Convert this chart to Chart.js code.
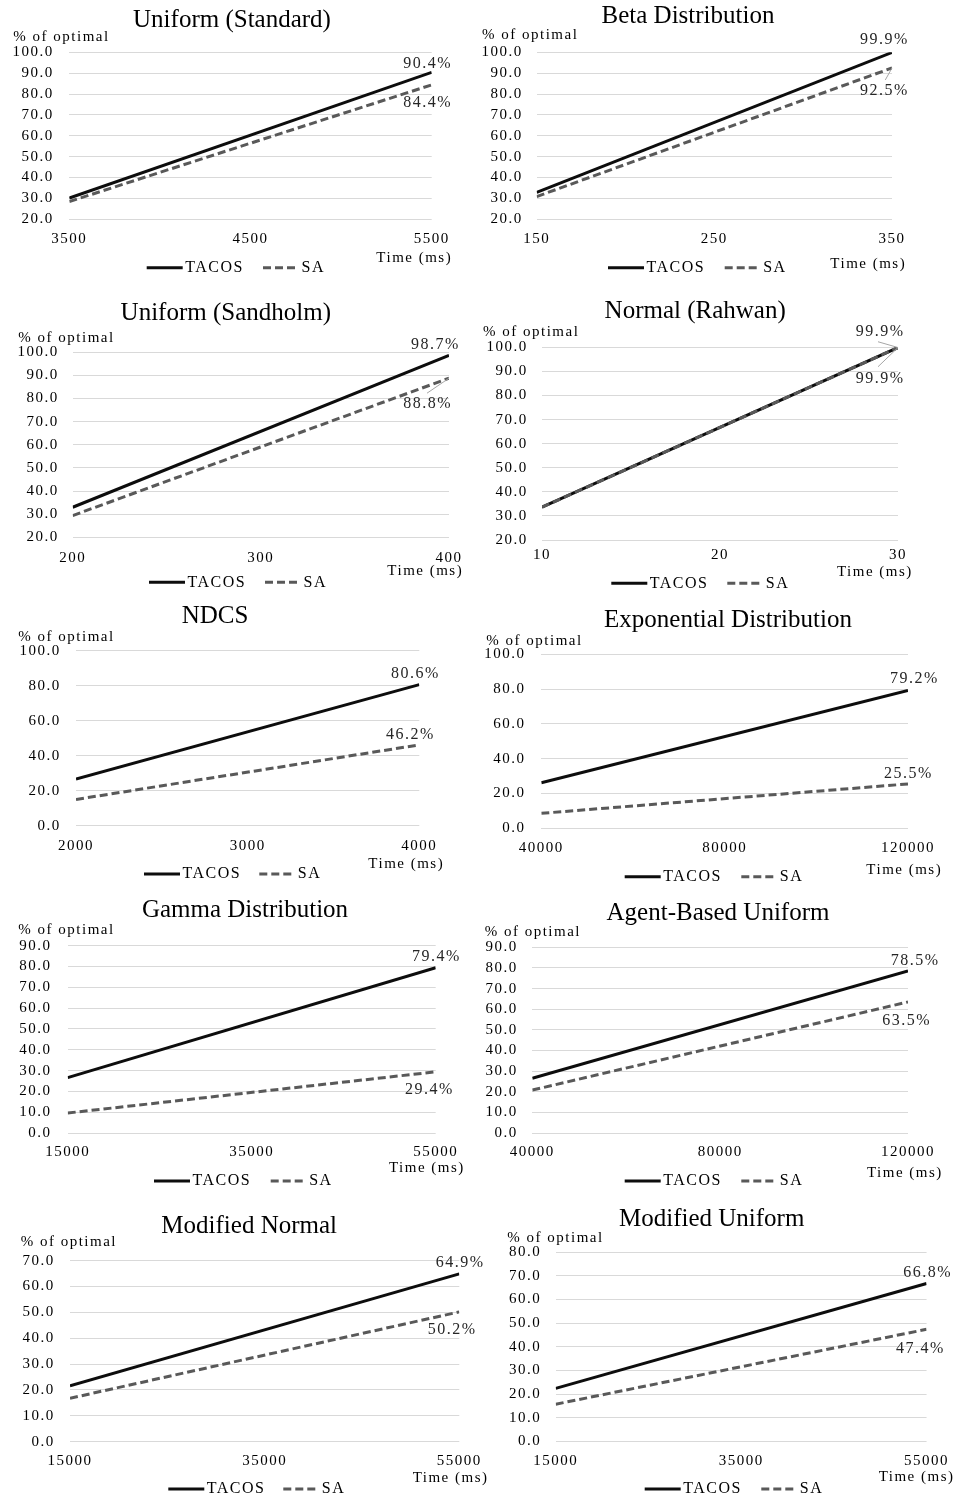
<!DOCTYPE html>
<html>
<head>
<meta charset="utf-8">
<script src="https://cdn.jsdelivr.net/npm/chart.js@4.4.1/dist/chart.umd.min.js"></script>
<style>
  html, body { margin: 0; padding: 0; background: #ffffff; }
  body { position: relative; width: 956px; height: 1499px; overflow: hidden; }
  canvas { position: absolute; }
</style>
</head>
<body>
<script>
// ---- data ----
const titles = ['Uniform (Standard)', 'Beta Distribution', 'Uniform (Sandholm)', 'Normal (Rahwan)', 'NDCS',
                'Exponential Distribution', 'Gamma Distribution', 'Agent-Based Uniform', 'Modified Normal', 'Modified Uniform'];
const seriesNames = ['TACOS', 'SA'];
// time (ms) of the first and last measurement
const times = [[3500, 5500], [150, 350], [200, 400], [10, 30], [2000, 4000],
               [40000, 120000], [15000, 55000], [40000, 120000], [15000, 55000], [15000, 55000]];
// % of optimal at those times
const tacos = [[30.2, 90.4], [32.9, 99.9], [33.0, 98.7], [33.6, 99.9], [26.7, 80.6],
               [26.2, 79.2], [26.6, 79.4], [26.5, 78.5], [21.6, 64.9], [22.4, 66.8]];
const sa    = [[28.5, 84.4], [30.9, 92.5], [29.4, 88.8], [33.6, 99.9], [15.0, 46.2],
               [8.6, 25.5], [9.6, 29.4], [20.8, 63.5], [16.8, 50.2], [15.7, 47.4]];
// x-axis tick values
const xTicks = [[3500, 4500, 5500], [150, 250, 350], [200, 300, 400], [10, 20, 30], [2000, 3000, 4000],
                [40000, 80000, 120000], [15000, 35000, 55000], [40000, 80000, 120000], [15000, 35000, 55000], [15000, 35000, 55000]];
// y-axis [min, max, step]
const yTicks = [[20, 100, 10], [20, 100, 10], [20, 100, 10], [20, 100, 10], [0, 100, 20],
                [0, 100, 20], [0, 90, 10], [0, 90, 10], [0, 70, 10], [0, 80, 10]];

// ---- page layout of each panel (page pixels) ----
// box: canvas [x, y, w, h]; plot: [left, top, right, bottom]; yLab: right edge of y tick text;
// xLab: centre line of x tick text; title/yName: anchor points; xName: right edge + centre;
// legend: [solid sample x, y, dashed sample x]; tag: value label offsets from line end; leaders: callout lines
const panels = [
  {box: [0, 0, 500, 290],     plot: [69.3, 52.3, 431.7, 219.3],   yLab: 52.3,  xLab: 239,    title: [232, 20.7],    yName: [13.3, 36.7],   xName: [450.7, 257.7],  legend: [146.7, 267.7, 263],   tag: [[19, -9], [19, 18.4]]},
  {box: [470, 0, 486, 290],   plot: [536.7, 52.3, 892, 219.3],    yLab: 521.3, xLab: 239.3,  title: [688, 16.7],    yName: [482, 35],      xName: [904.7, 264.3],  legend: [608, 267.7, 724.7],   tag: [[15.3, -13.2], [15.3, 23]], leaders: [null, [-6.7, 12]]},
  {box: [0, 290, 500, 305],   plot: [72.7, 352.3, 449, 537.3],    yLab: 57.3,  xLab: 558.3,  title: [225.8, 313.3], yName: [18.3, 337.7],  xName: [461.7, 571],    legend: [149, 582.3, 265],     tag: [[9.3, -11], [1.7, 26]],   leaders: [null, [-22, 15]]},
  {box: [470, 290, 486, 305], plot: [542, 347.3, 898, 540],       yLab: 526.3, xLab: 555,    title: [695.2, 311],   yName: [483, 332.3],   xName: [911.3, 571.7],  legend: [611.3, 583.3, 727.3], tag: [[5, -15.8], [5, 31.5]],   leaders: [[-20, -5.8], [-20, 19.2]]},
  {box: [0, 595, 500, 297],   plot: [76, 650.7, 419.3, 825.7],    yLab: 59.3,  xLab: 846,    title: [215, 616],     yName: [18.3, 637.3],  xName: [442.7, 864],    legend: [144, 874, 259.3],     tag: [[19, -10.6], [14, -9.9]]},
  {box: [470, 595, 486, 297], plot: [541.3, 654.3, 908, 828.3],   yLab: 524,   xLab: 848.3,  title: [728, 620.7],   yName: [486.3, 640.7], xName: [940.7, 870],    legend: [624.7, 876.7, 741.3], tag: [[29.3, -11.2], [23.3, -10.6]]},
  {box: [0, 892, 500, 308],   plot: [67.7, 945.7, 435.7, 1133],   yLab: 50,    xLab: 1152.3, title: [245, 910],     yName: [18.3, 930],    xName: [463.3, 1168.3], legend: [154, 1181, 270.7],    tag: [[23.6, -11.1], [16.6, 17.5]]},
  {box: [470, 892, 486, 308], plot: [532.3, 947.3, 908, 1133],    yLab: 516.3, xLab: 1152.3, title: [718, 913.3],   yName: [484.7, 932.3], xName: [941.3, 1173.3], legend: [624.7, 1181, 741.3],  tag: [[30, -10.3], [21.7, 18.7]]},
  {box: [0, 1200, 500, 299],  plot: [70, 1260.7, 459.3, 1441.7],  yLab: 53.3,  xLab: 1461,   title: [249.2, 1226.7], yName: [20.7, 1242.3], xName: [487, 1477.7],  legend: [168.3, 1489, 283.3],  tag: [[23.7, -10.6], [15.7, 18]]},
  {box: [470, 1200, 486, 299], plot: [555.7, 1252.3, 927.3, 1441.3], yLab: 539.7, xLab: 1461, title: [711.7, 1219], yName: [507.3, 1237.7], xName: [953, 1476.7],  legend: [644.7, 1489, 761.3],  tag: [[24, -10.2], [16.7, 19]]}
];

const FONT = '"Liberation Serif", "Times New Roman", serif';
const SPACING = 1.5;
const lineColors = ['#0d0d0d', '#595959'];
const lineDash = [[], [8, 4]];
const TEXT = '#000000';

panels.forEach((P, i) => {
  const [bx, by, bw, bh] = P.box;
  const [pl, pt, pr, pb] = P.plot;
  const cv = document.createElement('canvas');
  cv.width = bw; cv.height = bh;
  cv.style.left = bx + 'px'; cv.style.top = by + 'px';
  cv.style.width = bw + 'px'; cv.style.height = bh + 'px';
  document.body.appendChild(cv);

  const series = [tacos[i], sa[i]];

  const decor = {
    id: 'decor',
    beforeDraw(chart) { chart.ctx.letterSpacing = SPACING + 'px'; },
    afterDraw(chart) {
      const ctx = chart.ctx;
      const X = v => v - bx, Y = v => v - by;
      ctx.save();
      ctx.textBaseline = 'middle';
      ctx.fillStyle = TEXT;

      // panel title
      ctx.letterSpacing = '0px';
      ctx.font = '25px ' + FONT;
      ctx.textAlign = 'center';
      ctx.fillText(titles[i], X(P.title[0]), Y(P.title[1]));

      // axis names
      ctx.letterSpacing = SPACING + 'px';
      ctx.font = '15px ' + FONT;
      ctx.textAlign = 'left';
      ctx.fillText('% of optimal', X(P.yName[0]), Y(P.yName[1]));
      ctx.textAlign = 'right';
      ctx.fillText('Time (ms)', X(P.xName[0]) + SPACING, Y(P.xName[1]));

      // legend
      const [lx, ly, sx] = P.legend;
      ctx.font = '16px ' + FONT;
      ctx.textAlign = 'left';
      [lx, sx].forEach((x0, k) => {
        ctx.save();
        ctx.strokeStyle = lineColors[k];
        ctx.lineWidth = 3;
        ctx.setLineDash(lineDash[k]);
        ctx.beginPath();
        ctx.moveTo(X(x0), Y(ly));
        ctx.lineTo(X(x0 + (k === 0 ? 36 : 32)), Y(ly));
        ctx.stroke();
        ctx.restore();
        ctx.fillText(seriesNames[k], X(x0 + 38.5), Y(ly));
      });

      // value labels at the line ends
      const xs = chart.scales.x, ys = chart.scales.y;
      series.forEach((vals, k) => {
        const px = xs.getPixelForValue(times[i][1]);
        const py = ys.getPixelForValue(vals[1]);
        if (P.leaders && P.leaders[k]) {
          ctx.save();
          ctx.strokeStyle = '#a6a6a6';
          ctx.lineWidth = 1;
          ctx.beginPath();
          ctx.moveTo(px, py);
          ctx.lineTo(px + P.leaders[k][0], py + P.leaders[k][1]);
          ctx.stroke();
          ctx.restore();
        }
        ctx.font = '16px ' + FONT;
        ctx.fillStyle = '#262626';
        ctx.textAlign = 'right';
        ctx.fillText(vals[1].toFixed(1) + '%', px + P.tag[k][0] + SPACING, py + P.tag[k][1]);
      });
      ctx.restore();
    }
  };

  new Chart(cv, {
    type: 'line',
    data: {
      datasets: series.map((vals, k) => ({
        label: seriesNames[k],
        data: times[i].map((t, j) => ({x: t, y: vals[j]})),
        borderColor: lineColors[k],
        borderWidth: 3,
        borderDash: lineDash[k],
        pointRadius: 0,
        tension: 0,
        order: 1 - k
      }))
    },
    options: {
      responsive: false,
      animation: false,
      events: [],
      layout: {padding: {left: 0, top: pt - by, right: bx + bw - pr, bottom: 0}},
      plugins: {legend: {display: false}, title: {display: false}, tooltip: {enabled: false}},
      scales: {
        x: {
          type: 'linear',
          min: xTicks[i][0],
          max: xTicks[i][xTicks[i].length - 1],
          afterBuildTicks: s => { s.ticks = xTicks[i].map(v => ({value: v})); },
          afterFit: s => { s.height = by + bh - pb; },
          grid: {display: false, drawTicks: false},
          border: {display: false},
          ticks: {
            autoSkip: false, maxRotation: 0,
            padding: P.xLab - pb - 9,
            color: TEXT,
            font: {family: FONT, size: 15},
            callback: v => String(v)
          }
        },
        y: {
          min: yTicks[i][0],
          max: yTicks[i][1],
          afterFit: s => { s.width = pl - bx; },
          grid: {color: '#d9d9d9', lineWidth: 1, drawTicks: false},
          border: {display: false},
          ticks: {
            stepSize: yTicks[i][2],
            autoSkip: false,
            padding: pl - P.yLab - SPACING,
            color: TEXT,
            font: {family: FONT, size: 15},
            callback: v => Number(v).toFixed(1)
          }
        }
      }
    },
    plugins: [decor]
  });
});
</script>
</body>
</html>
